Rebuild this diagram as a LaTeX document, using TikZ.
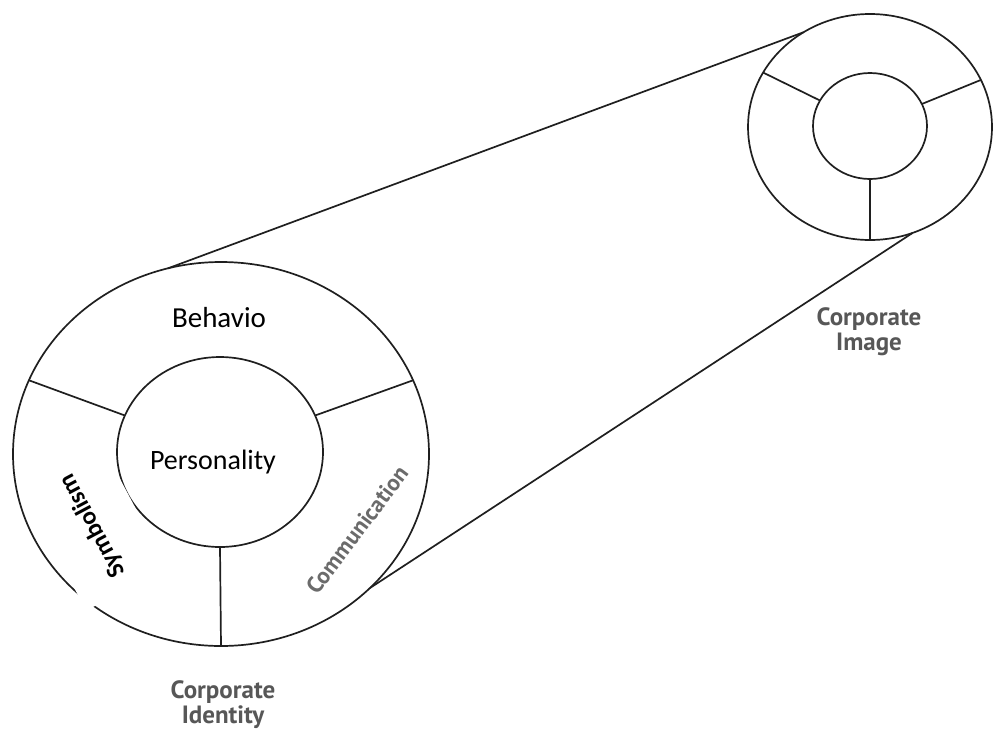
\documentclass[tikz,border=0pt]{standalone}
\usepackage{fontspec}
\setmainfont{Carlito}
\newfontfamily\labelfont{PT Sans}
\usetikzlibrary{shapes.geometric}
\tikzset{
  ring/.style={draw=black!88, line width=1.7pt, ellipse, inner sep=0pt, outer sep=0pt},
  spoke/.style={draw=black!88, line width=1.7pt},
  caption/.style={text=black!66, font=\labelfont\bfseries\fontsize{25}{25}\selectfont, align=center, inner sep=0pt},
}
\begin{document}
\begin{tikzpicture}[x=1pt, y=-1pt]
  \useasboundingbox (0,0) rectangle (993,729);
  \draw
    (221,454) node[ring, minimum width=416pt, minimum height=384pt] (idOuter){}
    (220,452) node[ring, minimum width=206pt, minimum height=190pt] (idInner){}
    (870,127) node[ring, minimum width=244pt, minimum height=226pt] (imOuter){}
    (870,126) node[ring, minimum width=114pt, minimum height=106pt] (imInner){};
  \begin{scope}[spoke]
    \draw (idInner.159) to (idOuter.159);
    \draw (idInner.21) to (idOuter.21);
    \draw (idInner.south) to (idOuter.south);
    \draw (imInner.153) to (imOuter.153);
    \draw (imInner.23) to (imOuter.23);
    \draw (imInner.south) to (imOuter.south);
    \draw (idOuter.106) to (imOuter.125);
    \draw (idOuter.-42) to (imOuter.-68);
  \end{scope}
  \node[anchor=base, font=\fontsize{29}{34}\selectfont] (behavio) at (219,327) {Behavio};
  \node[anchor=base, font=\fontsize{28}{34}\selectfont] (personality) at (213,469) {Personality};
  \node[fill=white, rotate=118, minimum width=144pt, minimum height=91.6pt,
        font=\bfseries\fontsize{25}{30}\selectfont] (symbolism) at (92.9,525.5) {Symbolism};
  \node[rotate=53, text=black!58, font=\labelfont\bfseries\fontsize{23}{25}\selectfont] (communication) at (357,530) {Communication};
  \node[caption, anchor=north] (identity) at (223,680) {Corporate\\Identity};
  \node[caption, anchor=north] (image) at (869,307) {Corporate\\Image};
\end{tikzpicture}
\end{document}
